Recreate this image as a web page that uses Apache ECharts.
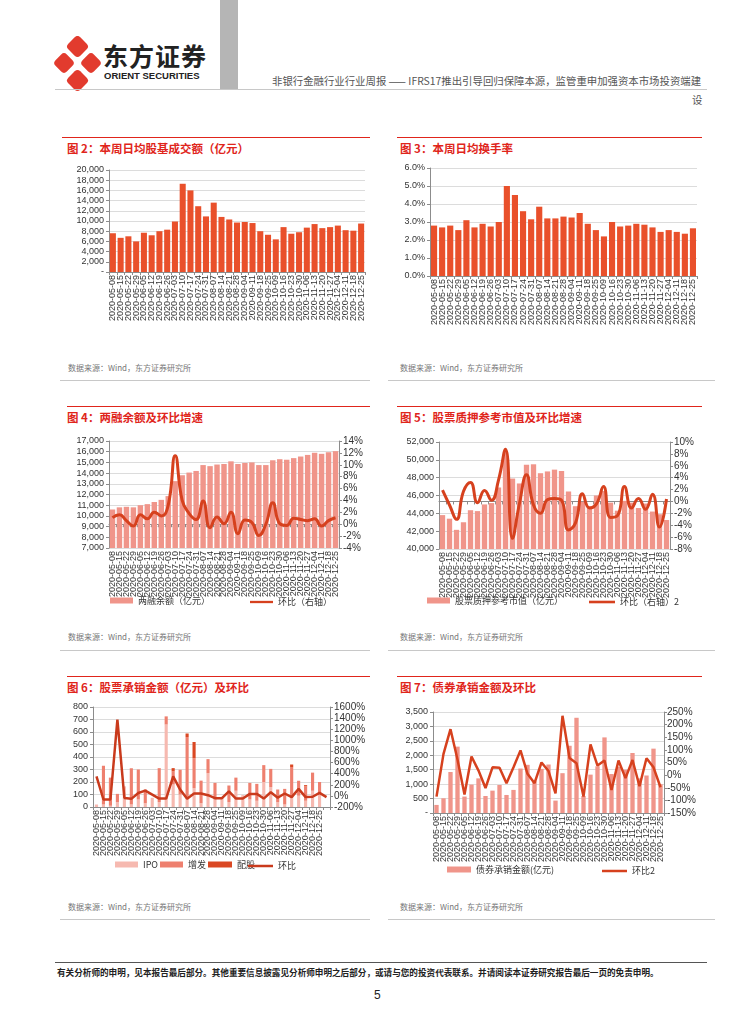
<!DOCTYPE html>
<html><head><meta charset="utf-8">
<script src="https://cdn.jsdelivr.net/npm/echarts@6/dist/echarts.min.js"></script>
<style>
body{margin:0;width:754px;height:1024px;position:relative;background:#fff;font-family:"Noto Sans CJK SC",sans-serif;overflow:hidden}
.title{position:absolute;color:#E0251B;font-size:11.5px;font-weight:bold;white-space:nowrap;line-height:13px}
.src{position:absolute;color:#777;font-size:8px;white-space:nowrap;line-height:10px}
.redline{position:absolute;height:1px;background:#E0251B}
.grayline{position:absolute;height:1px;background:#C8C8C8}
.chart{position:absolute}
</style></head><body>

<!-- header -->
<svg style="position:absolute;left:52px;top:36px" width="52" height="56" viewBox="0 0 52 56">
  <g fill="#E23B2E">
    <rect x="17" y="2" width="17" height="17" rx="4" transform="rotate(45 25.5 10.5)"/>
    <rect x="4" y="19" width="16" height="16" rx="4" transform="rotate(45 12 27)"/>
    <rect x="31" y="19" width="16" height="16" rx="4" transform="rotate(45 39 27)"/>
    <rect x="17" y="36" width="17" height="17" rx="4" transform="rotate(45 25.5 44.5)"/>
  </g>
</svg>
<div style="position:absolute;left:103px;top:40px;font-size:25px;font-weight:bold;color:#222;letter-spacing:1px;line-height:30px">东方证券</div>
<div style="position:absolute;left:104px;top:70px;font-size:9.5px;font-weight:bold;color:#222;font-family:'Liberation Sans',Arial,sans-serif;line-height:11px">ORIENT SECURITIES</div>
<div style="position:absolute;left:220px;top:0;width:18px;height:89px;background:#B5B5B5"></div>
<div style="position:absolute;left:272px;top:75px;font-size:10.4px;color:#555;white-space:nowrap;line-height:12px">非银行金融行业行业周报 —— IFRS17推出引导回归保障本源，监管重申加强资本市场投资端建</div>
<div style="position:absolute;left:692px;top:94px;font-size:10.4px;color:#555;line-height:12px">设</div>
<div style="position:absolute;left:55px;top:89px;width:652px;height:1px;background:#C8C8C8"></div>

<!-- row 1 -->
<div class="redline" style="left:62px;top:137px;width:308px"></div>
<div class="title" style="left:67px;top:142px">图 2：本周日均股基成交额（亿元）</div>
<div id="c2" class="chart" style="left:60px;top:155px;width:315px;height:205px"></div>
<div class="src" style="left:68px;top:363px">数据来源：Wind，东方证券研究所</div>
<div class="grayline" style="left:60px;top:380px;width:310px"></div>

<div class="redline" style="left:397px;top:137px;width:305px"></div>
<div class="title" style="left:400px;top:142px">图 3：本周日均换手率</div>
<div id="c3" class="chart" style="left:388px;top:155px;width:330px;height:205px"></div>
<div class="src" style="left:400px;top:363px">数据来源：Wind，东方证券研究所</div>
<div class="grayline" style="left:388px;top:380px;width:327px"></div>

<!-- row 2 -->
<div class="redline" style="left:67px;top:406px;width:303px"></div>
<div class="title" style="left:67px;top:411px">图 4：两融余额及环比增速</div>
<div id="c4" class="chart" style="left:60px;top:424px;width:315px;height:190px"></div>
<div class="src" style="left:68px;top:632px">数据来源：Wind，东方证券研究所</div>
<div class="grayline" style="left:60px;top:650px;width:310px"></div>

<div class="redline" style="left:397px;top:406px;width:305px"></div>
<div class="title" style="left:400px;top:411px">图 5：股票质押参考市值及环比增速</div>
<div id="c5" class="chart" style="left:388px;top:424px;width:330px;height:190px"></div>
<div class="src" style="left:400px;top:632px">数据来源：Wind，东方证券研究所</div>
<div class="grayline" style="left:388px;top:650px;width:327px"></div>

<!-- row 3 -->
<div class="redline" style="left:67px;top:676px;width:303px"></div>
<div class="title" style="left:67px;top:681px">图 6：股票承销金额（亿元）及环比</div>
<div id="c6" class="chart" style="left:60px;top:694px;width:315px;height:190px"></div>
<div class="src" style="left:68px;top:902px">数据来源：Wind，东方证券研究所</div>
<div class="grayline" style="left:60px;top:919px;width:310px"></div>

<div class="redline" style="left:397px;top:676px;width:305px"></div>
<div class="title" style="left:400px;top:681px">图 7：债券承销金额及环比</div>
<div id="c7" class="chart" style="left:388px;top:694px;width:330px;height:190px"></div>
<div class="src" style="left:400px;top:902px">数据来源：Wind，东方证券研究所</div>
<div class="grayline" style="left:388px;top:919px;width:327px"></div>

<!-- footer -->
<div style="position:absolute;left:55px;top:962px;width:652px;height:1px;background:#555"></div>
<div style="position:absolute;left:57px;top:967px;font-size:8.6px;font-weight:bold;color:#222;white-space:nowrap;line-height:11px">有关分析师的申明，见本报告最后部分。其他重要信息披露见分析师申明之后部分，或请与您的投资代表联系。并请阅读本证券研究报告最后一页的免责申明。</div>
<div style="position:absolute;left:374px;top:988px;font-size:12px;color:#222;font-family:'Liberation Sans',Arial,sans-serif">5</div>

<script>
// ---------------- DATA ----------------
const dates = ['2020-05-08','2020-05-15','2020-05-22','2020-05-29','2020-06-05','2020-06-12','2020-06-19','2020-06-26','2020-07-03','2020-07-10','2020-07-17','2020-07-24','2020-07-31','2020-08-07','2020-08-14','2020-08-21','2020-08-28','2020-09-04','2020-09-11','2020-09-18','2020-09-25','2020-10-09','2020-10-16','2020-10-23','2020-10-30','2020-11-06','2020-11-13','2020-11-20','2020-11-27','2020-12-04','2020-12-11','2020-12-18','2020-12-25'];
const equityDates = ['2020-05-08','2020-05-15','2020-05-22','2020-05-29','2020-06-05','2020-06-12','2020-06-19','2020-06-26','2020-07-03','2020-07-10','2020-07-17','2020-07-24','2020-07-31','2020-08-07','2020-08-14','2020-08-21','2020-08-28','2020-09-04','2020-09-11','2020-09-18','2020-09-25','2020-10-09','2020-10-16','2020-10-23','2020-10-30','2020-11-06','2020-11-13','2020-11-20','2020-11-27','2020-12-04','2020-12-11','2020-12-18','2020-12-25',''];

const tradeAmount = [7600,6700,7000,6000,7700,7200,8000,8300,9900,17300,16000,12900,10900,13600,10800,10300,9700,9800,9600,8000,7300,6400,8800,7500,7800,8700,9400,8600,8800,9100,8200,8100,9500];
const turnoverRate = [2.8,2.7,2.8,2.55,3.1,2.7,2.9,2.75,3.0,5.0,4.5,3.6,3.15,3.85,3.2,3.2,3.3,3.25,3.5,2.9,2.55,2.2,3.0,2.75,2.8,2.9,2.85,2.7,2.45,2.55,2.45,2.35,2.65];

const marginBalance = [10600,10800,10850,10800,11000,11100,11300,11500,11850,13250,13800,14050,14200,14750,14650,14800,14850,15100,14850,14950,15000,14750,14750,15200,15300,15250,15400,15550,15700,15900,15800,15950,16050];
const marginQoQ = [1.1,1.6,0.6,-0.3,1.6,0.9,2.0,1.4,3.2,11.5,4.0,1.8,0.8,3.9,-0.6,1.2,0.1,2.0,-1.6,0.7,0.3,-1.9,0.0,3.6,0.1,-0.2,1.0,0.8,0.6,0.9,-0.3,0.6,1.1];

const pledgeValue = [43800,43400,42150,43000,44350,44250,45000,45150,46900,50900,47900,47350,49450,49500,48500,48700,48900,48750,46450,44800,45300,44800,46000,46500,45200,44300,45400,45200,44600,45100,44200,43900,43250];
const pledgeQoQ = [1.9,-0.6,-3.0,1.7,3.2,-0.2,1.85,0.2,3.6,8.8,-6.2,-0.3,4.5,-0.6,-2.0,0.3,0.5,0.2,-4.8,-3.6,1.3,-1.1,-0.4,2.5,-2.7,-2.4,2.5,-1.1,0.5,-1.3,1.2,-4.3,0.4];

const ipoAmt    = [20,20,10,40,165,20,60,30,74,40,660,180,100,80,150,30,270,60,74,40,130,95,60,50,200,160,40,20,80,90,50,130,100,null];
const seoAmt    = [0,310,225,65,0,290,240,110,0,271,65,105,198,480,240,181,113,133,0,132,105,0,133,135,135,145,100,125,240,120,115,145,100,null];
const rightsAmt = [0,0,0,0,0,0,0,0,0,0,0,26,0,28,130,0,0,0,0,0,0,0,0,0,0,0,0,0,20,0,10,0,0,null];
const equityQoQ = [350,-65,-65,1373,-36,-53,53,95,24,-48,-48,350,113,-53,42,42,12,-42,-42,83,-48,-48,36,36,-48,65,-33,43,-22,126,-22,-16,55,-22];

const bondAmt = [280,510,1420,2300,570,985,1200,590,775,970,625,800,1540,1670,1100,1530,1680,430,1380,2330,3300,590,1330,1620,2620,1350,1600,1500,2080,1200,1300,2230,1000];
const bondQoQ = [-85,84,182,62,-77,74,18,-51,31,29,-32,31,98,5,-32,50,16,-72,235,68,47,-85,122,38,58,-59,58,-12,60,-44,67,31,-48];

// ---------------- STYLE HELPERS ----------------
const NUMFONT = '"Liberation Sans", Arial, "Noto Sans CJK SC", sans-serif';
const AXC = '#8c8c8c';
function xAxisCfg(data){
  return {type:'category', data:data,
    axisLine:{lineStyle:{color:AXC,width:1}},
    axisTick:{show:true,alignWithLabel:false,interval:0,length:3,lineStyle:{color:AXC}},
    axisLabel:{rotate:90,interval:0,fontSize:9,color:'#333',margin:3,fontFamily:NUMFONT}};
}
function yAxisCfg(min,max,interval,fmt,opts){
  opts = opts||{};
  return Object.assign({type:'value',min:min,max:max,interval:interval,
    axisLine:{show:true,lineStyle:{color:AXC}},
    axisTick:{show:true,length:3,lineStyle:{color:AXC}},
    splitLine:{show:!opts.right,lineStyle:{color:'#DCDCDC'}},
    axisLabel:{fontSize:opts.fs||9,color:'#333',margin:opts.margin||5,fontFamily:NUMFONT,formatter:fmt}},
    opts.right?{position:'right'}:{});
}
const thousands = v => v===0 ? '-' : v.toLocaleString('en-US');
const thousandsPlain = v => v.toLocaleString('en-US');
const pct0 = v => v+'%';
const legText = {fontSize:9,color:'#333',fontFamily:'"Noto Sans CJK SC", sans-serif'};
function leg(name,left,top,w,h){
  return {data:[name],left:left,top:top,itemWidth:w,itemHeight:h,textStyle:legText,padding:0,itemGap:0,selectedMode:false,icon:'rect'};
}
function legLine(name,left,top,w){
  return {data:[{name:name,icon:'path://M0,0H30V3H0Z'}],left:left,top:top+1.5,itemWidth:w,itemHeight:3,textStyle:legText,padding:0,itemGap:0,selectedMode:false};
}

function mk(id,opt){
  const c = echarts.init(document.getElementById(id),null,{renderer:'canvas'});
  opt.animation = false;
  c.setOption(opt);
}

// Chart 2
mk('c2',{
  grid:{left:49,top:15,width:256,height:102},
  xAxis:xAxisCfg(dates),
  yAxis:yAxisCfg(0,20000,2000,thousands),
  series:[{type:'bar',data:tradeAmount,barCategoryGap:'22%',itemStyle:{color:'#E9502B'}}]
});

// Chart 3
mk('c3',{
  grid:{left:42,top:13,width:267,height:108},
  xAxis:xAxisCfg(dates),
  yAxis:yAxisCfg(0,6,1,v=>v.toFixed(1)+'%'),
  series:[{type:'bar',data:turnoverRate,barCategoryGap:'24%',itemStyle:{color:'#E9502B'}}]
});

// Chart 4
mk('c4',{
  grid:{left:49,top:17,width:230,height:107},
  legend:[leg('两融余额（亿元）',50,172,23,6),legLine('环比（右轴）',190,172,23)],
  xAxis:xAxisCfg(dates),
  yAxis:[yAxisCfg(7000,17000,1000,thousandsPlain),yAxisCfg(-4,14,2,pct0,{right:true,fs:10,margin:4})],
  series:[
    {name:'两融余额（亿元）',type:'bar',data:marginBalance,barCategoryGap:'22%',itemStyle:{color:'#F0958A'}},
    {name:'环比（右轴）',type:'line',yAxisIndex:1,data:marginQoQ,smooth:0.5,symbol:'none',lineStyle:{color:'#D6411E',width:3},itemStyle:{color:'#D6411E'}}
  ]
});

// Chart 5
mk('c5',{
  grid:{left:51,top:18,width:231,height:107},
  legend:[leg('股票质押参考市值（亿元）',39,172,23,6),legLine('环比（右轴）2',201,172,26)],
  xAxis:xAxisCfg(dates),
  yAxis:[yAxisCfg(40000,52000,2000,thousandsPlain),yAxisCfg(-8,10,2,pct0,{right:true,fs:10,margin:4})],
  series:[
    {name:'股票质押参考市值（亿元）',type:'bar',data:pledgeValue,barCategoryGap:'24%',itemStyle:{color:'#F0958A'}},
    {name:'环比（右轴）2',type:'line',yAxisIndex:1,data:pledgeQoQ,smooth:0.5,symbol:'none',lineStyle:{color:'#D6411E',width:3},itemStyle:{color:'#D6411E'}}
  ]
});

// Chart 6
mk('c6',{
  grid:{left:33,top:13,width:237,height:100},
  legend:[leg('IPO',55,166,23,6),leg('增发',100,166,23,6),leg('配股',148,166,24,6),legLine('环比',188,166,25)],
  xAxis:xAxisCfg(equityDates),
  yAxis:[yAxisCfg(0,800,100,thousandsPlain),yAxisCfg(-200,1600,200,pct0,{right:true,fs:10,margin:4})],
  series:[
    {name:'IPO',type:'bar',stack:'eq',data:ipoAmt,barCategoryGap:'55%',itemStyle:{color:'#F6B9B0'}},
    {name:'增发',type:'bar',stack:'eq',data:seoAmt,itemStyle:{color:'#EE806F'}},
    {name:'配股',type:'bar',stack:'eq',data:rightsAmt,itemStyle:{color:'#DA4823'}},
    {name:'环比',type:'line',yAxisIndex:1,data:equityQoQ,symbol:'none',lineStyle:{color:'#C93A1C',width:2.5},itemStyle:{color:'#C93A1C'}}
  ]
});

// Chart 7
mk('c7',{
  grid:{left:45,top:18,width:231,height:101},
  legend:[leg('债券承销金额(亿元)',59,171,24,6),legLine('环比2',214,171,25)],
  xAxis:xAxisCfg(dates),
  yAxis:[yAxisCfg(0,3500,500,thousands),yAxisCfg(-150,250,50,pct0,{right:true,fs:10,margin:3})],
  series:[
    {name:'债券承销金额(亿元)',type:'bar',data:bondAmt,barCategoryGap:'38%',itemStyle:{color:'#F0958A'}},
    {name:'环比2',type:'line',yAxisIndex:1,data:bondQoQ,symbol:'none',lineStyle:{color:'#D6411E',width:2.5},itemStyle:{color:'#D6411E'}}
  ]
});
</script>
</body></html>
